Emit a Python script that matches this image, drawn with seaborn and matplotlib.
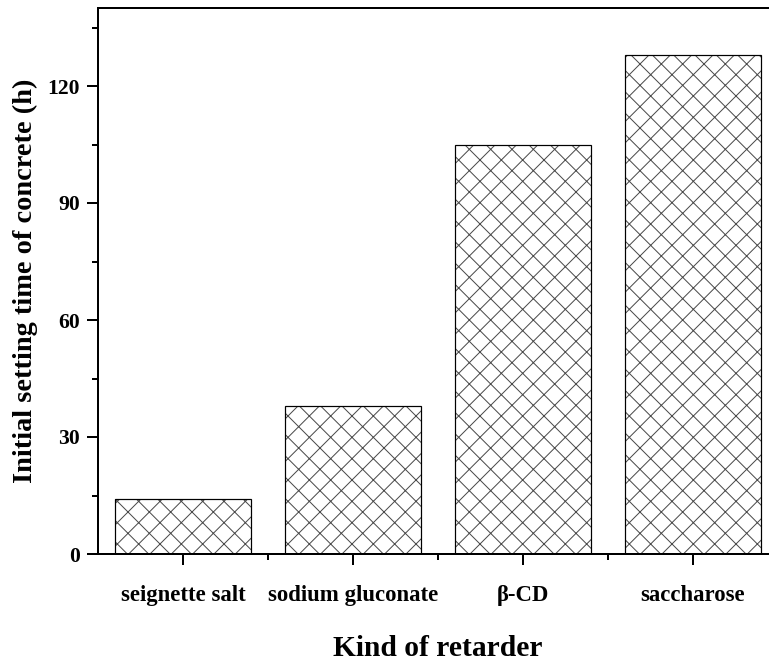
import matplotlib
matplotlib.use('Agg')
import matplotlib.pyplot as plt
import seaborn as sns
import pandas as pd
from matplotlib.ticker import MultipleLocator, FixedLocator

categories = ["seignette salt", "sodium gluconate", "β-CD", "saccharose"]
setting_time = [14, 38, 105, 128]

DPI = 64
S = 80 / DPI  # keep pixel sizes constant when changing dpi

sns.set_theme(style='ticks')
plt.rcParams['font.family'] = ['Liberation Serif', 'DejaVu Serif']
plt.rcParams['font.weight'] = 'bold'
plt.rcParams['hatch.linewidth'] = 0.9 * S
plt.rcParams['text.color'] = 'black'
plt.rcParams['axes.labelcolor'] = 'black'
plt.rcParams['xtick.color'] = 'black'
plt.rcParams['ytick.color'] = 'black'
plt.rcParams['xtick.labelcolor'] = 'black'
plt.rcParams['ytick.labelcolor'] = 'black'

fig = plt.figure(figsize=(769 / DPI, 662 / DPI), dpi=DPI)
ax = fig.add_axes([98 / 769, 108 / 662, 680 / 769, 546 / 662])

df = pd.DataFrame({'retarder': categories, 'time': setting_time})
sns.barplot(data=df, x='retarder', y='time', color='white', saturation=1,
            edgecolor='#4a4a4a', linewidth=0, hatch='x', width=0.8, ax=ax)
sns.barplot(data=df, x='retarder', y='time', color='black', fill=False,
            linewidth=1.1 * S, width=0.8, ax=ax)

ax.set_xlim(-0.5, 3.5)
ax.set_ylim(0, 140)
ax.yaxis.set_major_locator(MultipleLocator(30))
ax.yaxis.set_minor_locator(MultipleLocator(15))
ax.xaxis.set_minor_locator(FixedLocator([0.5, 1.5, 2.5, 3.5]))
ax.grid(False)

for sp in ax.spines.values():
    sp.set_linewidth(1.8 * S)
    sp.set_color('black')

ax.tick_params(axis='both', which='major', direction='out', length=10 * S, width=1.8 * S,
               color='black', labelcolor='black')
ax.tick_params(axis='both', which='minor', direction='out', length=5 * S, width=1.8 * S,
               color='black')
ax.tick_params(axis='x', which='major', labelsize=20.5 * S, pad=18 * S)
ax.tick_params(axis='y', which='major', labelsize=19.5 * S, pad=6 * S)
for lab in ax.get_xticklabels() + ax.get_yticklabels():
    lab.set_fontweight('bold')

ax.set_xlabel('Kind of retarder', fontsize=26.5 * S, fontweight='bold',
              labelpad=26 * S, color='black')
ax.set_ylabel('Initial setting time of concrete (h)', fontsize=25.5 * S, fontweight='bold',
              labelpad=9 * S, color='black')

fig.savefig('out.png', dpi=DPI)
